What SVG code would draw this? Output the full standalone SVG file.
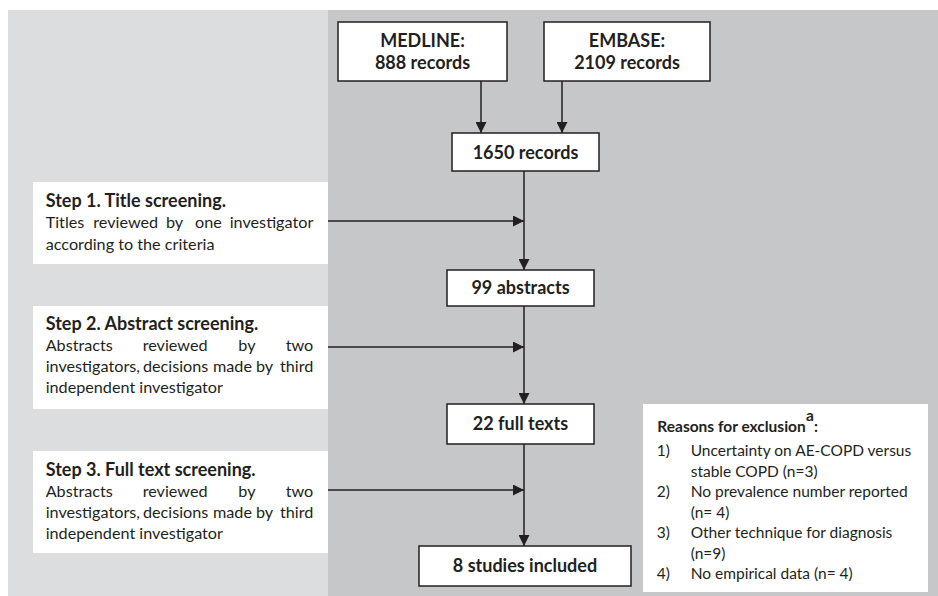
<svg xmlns="http://www.w3.org/2000/svg" width="938" height="596" viewBox="0 0 938 596">
<style>
.box{fill:#fff;stroke:#231f20;stroke-width:1.5}
.panel{fill:#fff}
.t{font-family:Lato,"Open Sans",sans-serif;fill:#231f20}
.bt{font-size:18px;font-weight:bold;text-anchor:middle}
.st{font-size:18px;font-weight:bold}
.bd{font-size:16.2px}
.rs{font-size:15.5px}
.rb{font-size:15.5px;font-weight:bold}
.c{stroke:#231f20;stroke-width:1.5;fill:none;marker-end:url(#ah)}
</style>
<defs>
<marker id="ah" markerUnits="userSpaceOnUse" markerWidth="11" markerHeight="11" refX="10" refY="5" orient="auto" viewBox="0 0 10 10">
<path d="M0,0 L10,5 L0,10 z" fill="#231f20"/>
</marker>
</defs>
<rect x="0" y="0" width="938" height="596" fill="#fff"/>
<rect x="8" y="10" width="320" height="586" fill="#dcdddf"/>
<rect x="328" y="10" width="610" height="586" fill="#c6c7c9"/>

<g id="connectors">
<line class="c" x1="481" y1="81" x2="481" y2="133"/>
<line class="c" x1="562" y1="81" x2="562" y2="133"/>
<line class="c" x1="524" y1="171" x2="524" y2="270"/>
<line class="c" x1="524" y1="306" x2="524" y2="404"/>
<line class="c" x1="524" y1="444" x2="524" y2="546"/>
<line class="c" x1="328" y1="221" x2="524" y2="221"/>
<line class="c" x1="328" y1="347" x2="524" y2="347"/>
<line class="c" x1="328" y1="490" x2="524" y2="490"/>
</g>

<g id="medline">
<rect class="box" x="338" y="22" width="169" height="59"/>
<text class="t bt" x="422.5" y="47">MEDLINE:</text>
<text class="t bt" x="422.5" y="69">888 records</text>
</g>
<g id="embase">
<rect class="box" x="544" y="22" width="166" height="59"/>
<text class="t bt" x="627" y="47">EMBASE:</text>
<text class="t bt" x="627" y="69">2109 records</text>
</g>
<g id="records1650">
<rect class="box" x="452" y="133" width="147" height="38"/>
<text class="t bt" x="525.5" y="159">1650 records</text>
</g>
<g id="abstracts99">
<rect class="box" x="447" y="270" width="147" height="36"/>
<text class="t bt" x="520.5" y="294">99 abstracts</text>
</g>
<g id="fulltexts22">
<rect class="box" x="447" y="404" width="147" height="40"/>
<text class="t bt" x="520.5" y="430">22 full texts</text>
</g>
<g id="included8">
<rect class="box" x="419" y="546" width="212" height="40"/>
<text class="t bt" x="525" y="572">8 studies included</text>
</g>

<g id="step1">
<rect class="panel" x="33" y="182" width="295" height="82"/>
<text class="t st" x="45.7" y="207">Step 1. Title screening.</text>
<text class="t bd" y="228"><tspan x="45.7">Titles</tspan><tspan x="93.3">reviewed</tspan><tspan x="166">by</tspan><tspan x="195">one</tspan><tspan x="313.3" text-anchor="end">investigator</tspan></text>
<text class="t bd" x="45.7" y="250">according to the criteria</text>
</g>
<g id="step2">
<rect class="panel" x="33" y="306" width="295" height="103"/>
<text class="t st" x="45.7" y="330">Step 2. Abstract screening.</text>
<text class="t bd" y="351"><tspan x="45.7">Abstracts</tspan><tspan x="142.7">reviewed</tspan><tspan x="238.3">by</tspan><tspan x="313.3" text-anchor="end">two</tspan></text>
<text class="t bd" y="372"><tspan x="45.7">investigators,</tspan><tspan x="143">decisions</tspan><tspan x="213">made</tspan><tspan x="256">by</tspan><tspan x="313.3" text-anchor="end">third</tspan></text>
<text class="t bd" x="45.7" y="393">independent investigator</text>
</g>
<g id="step3">
<rect class="panel" x="33" y="451" width="295" height="102"/>
<text class="t st" x="45.7" y="476">Step 3. Full text screening.</text>
<text class="t bd" y="497"><tspan x="45.7">Abstracts</tspan><tspan x="142.7">reviewed</tspan><tspan x="238.3">by</tspan><tspan x="313.3" text-anchor="end">two</tspan></text>
<text class="t bd" y="518"><tspan x="45.7">investigators,</tspan><tspan x="143">decisions</tspan><tspan x="213">made</tspan><tspan x="256">by</tspan><tspan x="313.3" text-anchor="end">third</tspan></text>
<text class="t bd" x="45.7" y="539">independent investigator</text>
</g>

<g id="reasons">
<rect class="panel" x="643" y="404" width="285" height="188"/>
<text class="t rb" x="657.3" y="432">Reasons for exclusion</text>
<text class="t rb" x="806" y="421" font-size="11px">a</text>
<text class="t rb" x="814" y="432">:</text>
<text class="t rs" x="656.7" y="456">1)</text>
<text class="t rs" x="690.7" y="456">Uncertainty on AE-COPD versus</text>
<text class="t rs" x="690.7" y="476.5">stable COPD (n=3)</text>
<text class="t rs" x="656.7" y="497">2)</text>
<text class="t rs" x="690.7" y="497">No prevalence number reported</text>
<text class="t rs" x="690.7" y="517.5">(n= 4)</text>
<text class="t rs" x="656.7" y="538">3)</text>
<text class="t rs" x="690.7" y="538">Other technique for diagnosis</text>
<text class="t rs" x="690.7" y="558.5">(n=9)</text>
<text class="t rs" x="656.7" y="579">4)</text>
<text class="t rs" x="690.7" y="579">No empirical data (n= 4)</text>
</g>
</svg>
